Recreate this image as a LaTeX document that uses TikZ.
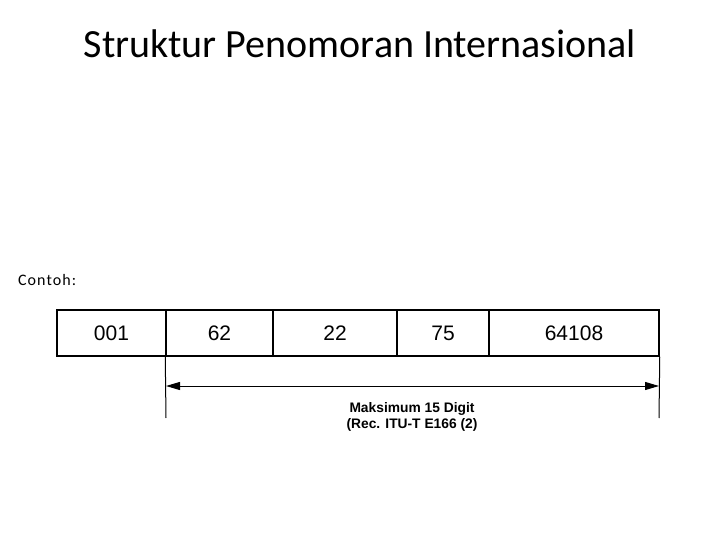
\documentclass[tikz,border=0pt]{standalone}
\usepackage{fontspec}
\setmainfont{Carlito}
\newfontfamily\arialfont{Liberation Sans}
\usetikzlibrary{arrows.meta}

\begin{document}
\begin{tikzpicture}[x=1pt,y=-1pt]
      \tikzset{
        cell/.style={draw,line width=1.5pt,minimum height=46pt,inner sep=0pt,
          font=\arialfont\fontsize{21}{24}\selectfont},
        note/.style={font=\arialfont\bfseries\fontsize{13.8}{15}\selectfont,inner sep=0pt},
        dim/.style={line width=1pt,{Triangle[length=14pt,width=8pt]}-{Triangle[length=14pt,width=8pt]}}
      }
      \useasboundingbox (0,0) rectangle (720,540);

      \node[font=\fontsize{40}{44}\selectfont] (title) at (360,44) {Struktur Penomoran Internasional};
      \node[anchor=west,inner sep=0pt,font=\fontsize{16}{18}\selectfont] (contoh) at (18,280) {C\kern1pt o\kern1pt n\kern1pt t\kern1pt o\kern1pt h\kern1pt :};

      \node[cell,minimum width=109pt] (n1) at (111.5,333) {001};
      \node[cell,minimum width=107pt] (n2) at (219.5,333) {62};
      \node[cell,minimum width=124pt] (n3) at (335,333) {22};
      \node[cell,minimum width=92pt] (n4) at (443,333) {75};
      \node[cell,minimum width=170pt] (n5) at (574,333) {64108};

      \coordinate (a) at (166,418);
      \coordinate (b) at (659,418);
      \coordinate (pa) at (166,386);
      \coordinate (pb) at (659,386);

      \draw[line width=1pt] (n2.south west) -- (a)
            (n5.south east) -- (b);
      \draw[dim] (pa) -- (pb);

      \node[note] (lbl1) at (412,409) {Maksimum 15 Digit};
      \node[note] (lbl2) at (412,425) {(Rec. ITU-T E166 (2)};
    \end{tikzpicture}
\end{document}
